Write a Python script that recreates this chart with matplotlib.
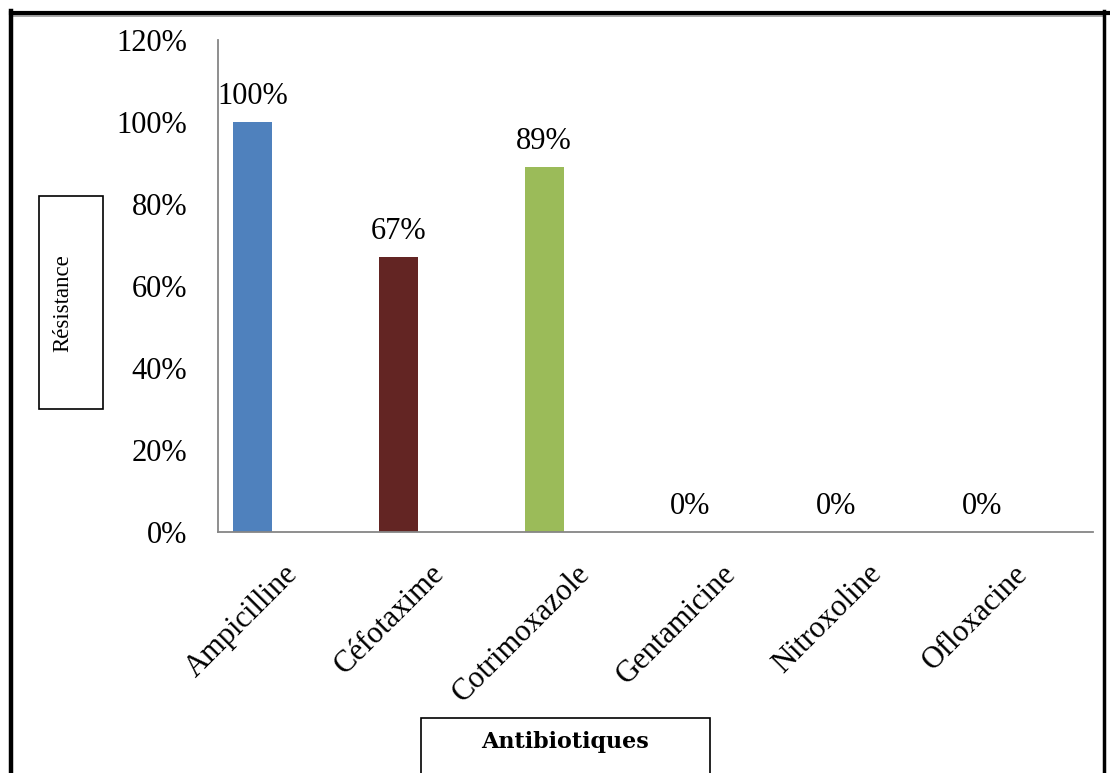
import matplotlib
matplotlib.use("Agg")
import matplotlib.pyplot as plt
from matplotlib.patches import Rectangle
from matplotlib.lines import Line2D
from matplotlib.ticker import FuncFormatter
from matplotlib.transforms import ScaledTranslation

# Resistance rate per antibiotic
antibiotics = ["Ampicilline", "Céfotaxime", "Cotrimoxazole",
               "Gentamicine", "Nitroxoline", "Ofloxacine"]
resistance = [1.00, 0.67, 0.89, 0.00, 0.00, 0.00]
bar_colors = ["#4F81BD", "#632523", "#9BBB59", "#4F81BD", "#632523", "#9BBB59"]
y_ticks = [0.0, 0.2, 0.4, 0.6, 0.8, 1.0, 1.2]

W, H = 1110, 773
DPI = 100
fig = plt.figure(figsize=(W / DPI, H / DPI), dpi=DPI)
fig.patch.set_facecolor("white")

SERIF = "Liberation Serif"
FS = 22


def fx(px):
    return px / W


def fy(py):
    return 1 - py / H


# plot area
left, right, top, bottom = 218, 1093, 40, 532
ax = fig.add_axes([fx(left), fy(bottom), fx(right) - fx(left), fy(top) - fy(bottom)])

n = len(antibiotics)
bar_offset = 0.237
bar_width = 0.267
xpos = [i + bar_offset for i in range(n)]
ax.bar(xpos, resistance, width=bar_width, color=bar_colors, zorder=2)

ax.set_xlim(0, n)
ax.set_ylim(0, 1.2)
ax.set_yticks(y_ticks)
ax.yaxis.set_major_formatter(FuncFormatter(lambda v, _: f"{v * 100:.0f}%"))
ax.tick_params(axis="y", length=0, pad=22, labelsize=FS)
for lbl in ax.get_yticklabels():
    lbl.set_fontfamily(SERIF)

ax.set_xticks([i + 0.5 for i in range(n)])
ax.set_xticklabels(antibiotics, rotation=45, ha="right", va="center",
                   rotation_mode="anchor", fontsize=FS, fontfamily=SERIF)
ax.tick_params(axis="x", length=0, pad=27)
shift = ScaledTranslation(3 / DPI, 0, fig.dpi_scale_trans)
for lbl in ax.get_xticklabels():
    lbl.set_transform(lbl.get_transform() + shift)

for s in ("top", "right"):
    ax.spines[s].set_visible(False)
for s in ("left", "bottom"):
    ax.spines[s].set_color("#868686")
    ax.spines[s].set_linewidth(1.3)

# value labels above bars
for x, v in zip(xpos, resistance):
    ax.annotate(f"{v * 100:.0f}%", xy=(x, v), xytext=(0, 13),
                textcoords="offset points", ha="center", va="baseline",
                fontsize=FS, fontfamily=SERIF, annotation_clip=False)

# y-axis title in a framed box
fig.patches.append(Rectangle((fx(39), fy(409)), fx(103) - fx(39), fy(196) - fy(409),
                             transform=fig.transFigure, fill=False,
                             edgecolor="black", linewidth=1.2))
fig.text(fx(63), fy(303), "Résistance", rotation=90, ha="center", va="center",
         fontsize=16.5, fontfamily=SERIF)

# x-axis title in a framed box
fig.patches.append(Rectangle((fx(421), fy(790)), fx(710) - fx(421), fy(718) - fy(790),
                             transform=fig.transFigure, fill=False,
                             edgecolor="black", linewidth=1.2, clip_on=False))
fig.text(fx(565), fy(742), "Antibiotiques", ha="center", va="center",
         fontsize=16, fontweight="bold", fontfamily="DejaVu Serif")

# outer frame
fig.lines.append(Line2D([fx(12), fx(1104)], [fy(15.5), fy(15.5)],
                        transform=fig.transFigure, color="#9a9a9a", linewidth=1.2))
fig.lines.append(Line2D([fx(11), fx(1110)], [fy(12.5), fy(12.5)],
                        transform=fig.transFigure, color="black", linewidth=3))
fig.lines.append(Line2D([fx(11), fx(11)], [fy(11), fy(773)],
                        transform=fig.transFigure, color="black", linewidth=3.2))
fig.lines.append(Line2D([fx(1104), fx(1104)], [fy(11), fy(773)],
                        transform=fig.transFigure, color="black", linewidth=2.5))

fig.savefig("out.png", dpi=DPI, facecolor="white")
